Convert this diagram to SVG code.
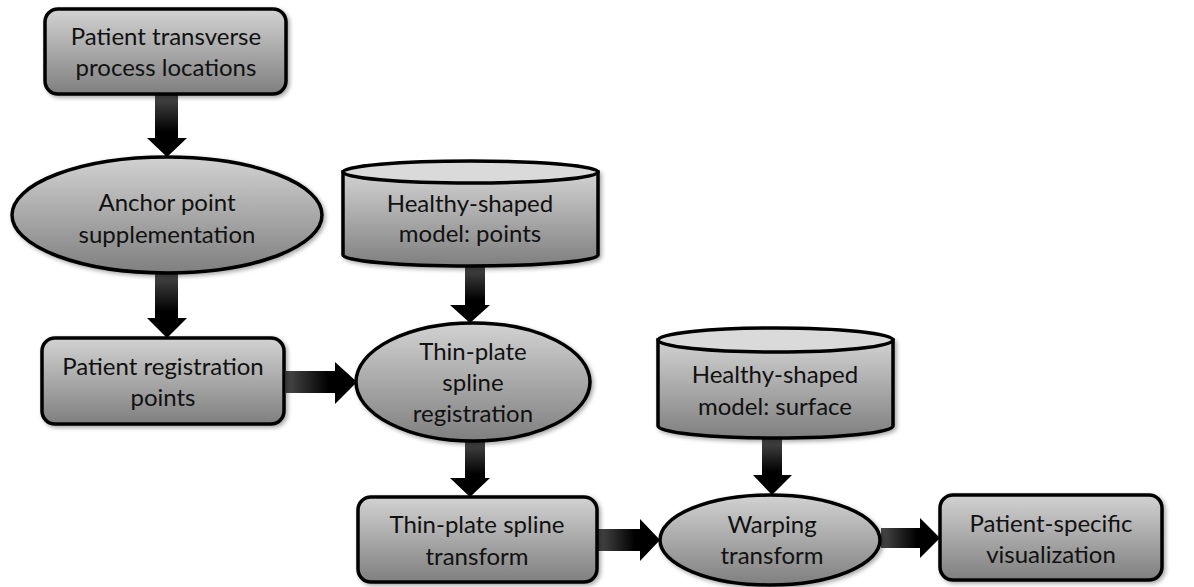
<svg xmlns="http://www.w3.org/2000/svg" width="1194" height="587" viewBox="0 0 1194 587">
<defs>
<linearGradient id="gFill" x1="0" y1="0" x2="0" y2="1">
<stop offset="0" stop-color="#d2d2d2"/>
<stop offset="1" stop-color="#7f7f7f"/>
</linearGradient>
<linearGradient id="gV" x1="0" y1="0" x2="0" y2="1">
<stop offset="0" stop-color="#4a4a4a"/>
<stop offset="0.6" stop-color="#000"/>
</linearGradient>
<linearGradient id="gH" x1="0" y1="0" x2="1" y2="0">
<stop offset="0" stop-color="#4a4a4a"/>
<stop offset="0.6" stop-color="#000"/>
</linearGradient>
<filter id="sh" x="-10%" y="-10%" width="130%" height="130%">
<feDropShadow dx="2" dy="2" stdDeviation="2" flood-color="#000" flood-opacity="0.35"/>
</filter>
</defs>
<style>
.n{fill:url(#gFill);stroke:#000;stroke-width:3.5;filter:url(#sh)}
.cap{fill:#dadada;stroke:#000;stroke-width:3.5}
.t{font-family:Lato,"Liberation Sans",sans-serif;font-size:24px;fill:#111;text-anchor:middle}
.av{fill:url(#gV)}
.ah{fill:url(#gH)}
</style>
<g id="connectors">
<polygon class="av" points="155,95 178,95 178,138 187,138 167,157 147,138 155,138"/>
<polygon class="av" points="155,273 178,273 178,318 187,318 167,338 147,318 155,318"/>
<polygon class="ah" points="286,371 335,371 335,362 357,382 335,404 335,393 286,393"/>
<polygon class="av" points="465,266 485,266 485,305 490,305 470,323 450,305 465,305"/>
<polygon class="av" points="465,441 485,441 485,478 490,478 470,497 450,478 465,478"/>
<polygon class="ah" points="598,529 640,529 640,519 660,540 640,561 640,551 598,551"/>
<polygon class="av" points="762,439 782,439 782,475 792,475 772,495 753,475 762,475"/>
<polygon class="ah" points="881,528 920,528 920,518 940,538 920,558 920,548 881,548"/>
</g>
<g id="n1">
<rect class="n" x="45" y="9" width="241" height="85" rx="13"/>
<text class="t" x="166" y="45">Patient transverse</text>
<text class="t" x="166" y="76">process locations</text>
</g>
<g id="n2">
<ellipse class="n" cx="167" cy="215" rx="155" ry="58"/>
<text class="t" x="167" y="211">Anchor point</text>
<text class="t" x="167" y="243">supplementation</text>
</g>
<g id="n3">
<rect class="n" x="42" y="338" width="242" height="86" rx="13"/>
<text class="t" x="163" y="375">Patient registration</text>
<text class="t" x="163" y="406">points</text>
</g>
<g id="n4">
<path class="n" d="M343,172 L343,255 A127.5,11 0 0 0 598,255 L598,172 Z"/>
<ellipse class="cap" cx="470.5" cy="172" rx="127.5" ry="11"/>
<text class="t" x="470" y="212">Healthy-shaped</text>
<text class="t" x="470" y="242">model: points</text>
</g>
<g id="n5">
<ellipse class="n" cx="473" cy="382" rx="117" ry="59"/>
<text class="t" x="473" y="360">Thin-plate</text>
<text class="t" x="473" y="391">spline</text>
<text class="t" x="473" y="422">registration</text>
</g>
<g id="n6">
<rect class="n" x="358" y="497" width="239" height="85" rx="13"/>
<text class="t" x="477" y="533">Thin-plate spline</text>
<text class="t" x="477" y="565">transform</text>
</g>
<g id="n7">
<path class="n" d="M658,340 L658,426 A117.5,12 0 0 0 893,426 L893,340 Z"/>
<ellipse class="cap" cx="775.5" cy="340" rx="117.5" ry="12"/>
<text class="t" x="775" y="383">Healthy-shaped</text>
<text class="t" x="775" y="415">model: surface</text>
</g>
<g id="n8">
<ellipse class="n" cx="770" cy="540" rx="110" ry="45"/>
<text class="t" x="772" y="533">Warping</text>
<text class="t" x="772" y="564">transform</text>
</g>
<g id="n9">
<rect class="n" x="940" y="495" width="222" height="85" rx="13"/>
<text class="t" x="1051" y="532">Patient-specific</text>
<text class="t" x="1051" y="563">visualization</text>
</g>
</svg>
